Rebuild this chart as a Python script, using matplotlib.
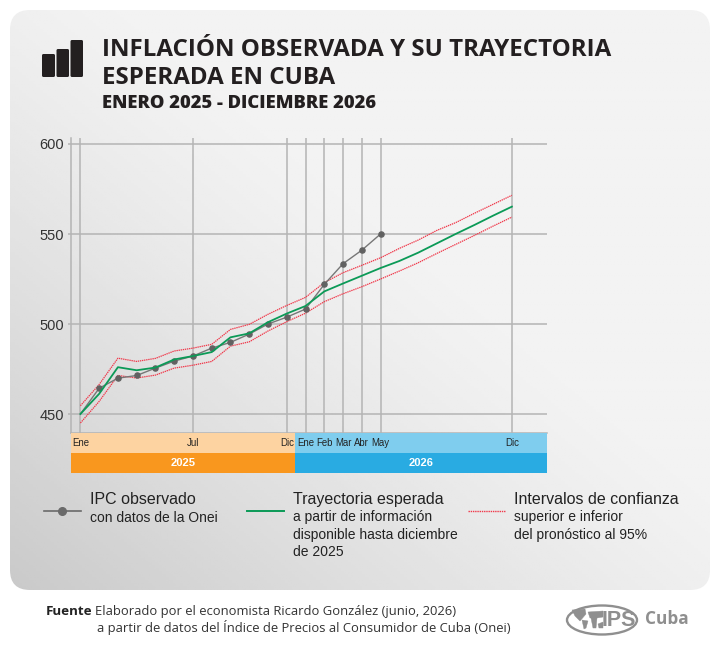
import matplotlib
matplotlib.use("Agg")
import matplotlib.pyplot as plt
from matplotlib.patches import FancyBboxPatch, Ellipse, Rectangle, Polygon
import numpy as np

# months counted from Ene 2025 = 0
months = list(range(24))
observed = [450, 464.3, 469.9, 471.4, 475.5, 479.4, 482.2, 486.6, 489.8, 494.4,
            500, 503.8, 508.3, 522, 533.5, 541, 550]
expected = [450, 461.2, 476, 474.3, 475.8, 480.3, 482.2, 484.4, 492.6, 494.8, 501, 505.8,
            510, 518.1, 522.5, 526.8, 531.1, 535, 539.6, 544.8, 550, 555, 560.2, 565.2]
upper = [454.6, 466.4, 481, 479.2, 480.9, 485, 486.6, 488.7, 497, 499.8, 505.4, 510.3,
         514.8, 523, 528.5, 532.6, 536.8, 542, 546.6, 552, 556.3, 561.5, 566.5, 571.5]
lower = [445, 457, 471.4, 470, 471.6, 475.5, 477.1, 479.2, 487.7, 490.1, 496.1, 501.3,
         506, 512.4, 516.8, 520.7, 525, 529.4, 534, 539.2, 544.2, 549.2, 554.4, 559.4]

y_ticks = [450, 500, 550, 600]
x_grid = [0, 6, 11, 12, 13, 14, 15, 16, 23]
x_labels = ["Ene", "Jul", "Dic", "Ene", "Feb", "Mar", "Abr", "May", "Dic"]
years = ["2025", "2026"]

W, H = 720, 650
GRID = "#b4b4b4"
RED = "#f0384a"
SANS = "Liberation Sans"
HEAD = "Open Sans"
LOGO = "#8f8f8f"

fig = plt.figure(figsize=(W / 100, H / 100), dpi=100, facecolor="white")


def px_axes(x0, y0, x1, y1):
    # axes from pixel box, y measured from the top
    return fig.add_axes([x0 / W, 1 - y1 / H, (x1 - x0) / W, (y1 - y0) / H])


# background layer in pixel coordinates
bg = fig.add_axes([0, 0, 1, 1])
bg.set_xlim(0, W)
bg.set_ylim(H, 0)
bg.axis("off")

u, v = np.meshgrid(np.linspace(0, 1, 200), np.linspace(0, 1, 200))
d = np.clip(((1 - u) * 0.5 + v * 0.5 - 0.42) / 0.58, 0, 1)
shade = 0.95 - (0.95 - 0.79) * d ** 1.25
img = bg.imshow(shade, extent=(10, 710, 590, 10), cmap="gray", vmin=0, vmax=1,
                aspect="auto", zorder=0)
panel = FancyBboxPatch((30, 30), 660, 540, boxstyle="round,pad=20,rounding_size=20",
                       transform=bg.transData, fc="none", ec="none")
bg.add_patch(panel)
img.set_clip_path(panel)
bg.set_xlim(0, W)
bg.set_ylim(H, 0)

# bars icon
for x0, x1, top in [(42, 55, 54), (56.5, 69, 49), (70.5, 83, 40)]:
    bg.add_patch(FancyBboxPatch((x0 + 1, top + 1), x1 - x0 - 2, 77 - top - 2,
                                boxstyle="round,pad=1,rounding_size=1.5",
                                fc="#231f20", ec="none", zorder=2))

bg.text(102, 55.5, "INFLACIÓN OBSERVADA Y SU TRAYECTORIA", family=HEAD, weight="bold",
        fontsize=17.4, color="#231f20", va="baseline", ha="left")
bg.text(102, 84.5, "ESPERADA EN CUBA", family=HEAD, weight="bold",
        fontsize=17.4, color="#231f20", va="baseline", ha="left")
bg.text(102, 108, "ENERO 2025 - DICIEMBRE 2026", family=HEAD, weight="heavy",
        fontsize=13.2, color="#231f20", va="baseline", ha="left")

# main chart
ax = px_axes(71, 138, 547, 433)
ax.set_facecolor("none")
ax.set_xlim((71 - 80.4) / 18.76, (547 - 80.4) / 18.76)
ax.set_ylim(600 - (433 - 144) / 1.8, 600 + (144 - 138) / 1.8)
for s in ["top", "right"]:
    ax.spines[s].set_visible(False)
for s in ["left", "bottom"]:
    ax.spines[s].set_color(GRID)
    ax.spines[s].set_linewidth(1.1)
ax.set_yticks(y_ticks)
ax.set_xticks([])
ax.tick_params(axis="y", length=2.2, width=1.1, color=GRID, pad=3, labelsize=10.5,
               labelcolor="#333333")
for lab in ax.get_yticklabels():
    lab.set_family(SANS)
ax.grid(axis="y", color=GRID, lw=1.1)
for m in x_grid:
    ax.axvline(m, color=GRID, lw=1.1, zorder=1)
ax.set_axisbelow(True)

ax.plot(months, upper, color=RED, lw=0.9, ls=(0, (1.1, 0.6)), zorder=3)
ax.plot(months, lower, color=RED, lw=0.9, ls=(0, (1.1, 0.6)), zorder=3)
ax.plot(months[:len(observed)], observed, color="#777777", lw=1.0, marker="o",
        ms=3.7, mfc="#616161", mec="#616161", markevery=list(range(1, len(observed))),
        zorder=4)
ax.plot(months, expected, color="#0b9a57", lw=1.3, zorder=5)

# month and year bands under the chart
band = px_axes(71, 433, 547, 473)
band.set_xlim(ax.get_xlim())
band.set_ylim(2, 0)
band.axis("off")
split = 11.43
left, right = ax.get_xlim()
band.add_patch(Rectangle((left, 0), split - left, 1, fc="#fdd3a1", ec="none"))
band.add_patch(Rectangle((split, 0), right - split, 1, fc="#7fcdee", ec="none"))
band.add_patch(Rectangle((left, 1), split - left, 1, fc="#f9971e", ec="none"))
band.add_patch(Rectangle((split, 1), right - split, 1, fc="#29abe2", ec="none"))
for m, lab in zip(x_grid, x_labels):
    band.text(m, 0.5, lab, ha="center", va="center", family=SANS, fontsize=6.9,
              color="#222222")
band.text((left + split) / 2, 1.5, years[0], ha="center", va="center", family=SANS,
          weight="bold", fontsize=8, color="white")
band.text((split + right) / 2, 1.5, years[1], ha="center", va="center", family=SANS,
          weight="bold", fontsize=8, color="white")

# legend
bg.plot([44, 81], [511, 511], color="#6a6a6a", lw=1.2, zorder=2)
bg.plot([62], [511], marker="o", ms=5.5, color="#6a6a6a", zorder=3)
bg.plot([247, 284], [511, 511], color="#0b9a57", lw=1.4, zorder=2)
bg.plot([468, 505], [511, 511], color=RED, lw=1.0, ls=(0, (1, 0.6)), zorder=2)

legend_heads = [(90, "IPC observado"), (293, "Trayectoria esperada"), (514, "Intervalos de confianza")]
for x, t in legend_heads:
    bg.text(x, 499.5, t, family=SANS, fontsize=11.5, color="#222222", va="center")
legend_subs = [
    (90, 517.5, "con datos de la Onei"),
    (293, 517.5, "a partir de información"),
    (293, 534.5, "disponible hasta diciembre"),
    (293, 551.5, "de 2025"),
    (514, 517.5, "superior e inferior"),
    (514, 534.5, "del pronóstico al 95%"),
]
for x, y, t in legend_subs:
    bg.text(x, y, t, family=SANS, fontsize=10, color="#222222", va="center")

# source
bg.text(46, 615, "Fuente", family=HEAD, weight="bold", fontsize=9.6, color="#222222", va="baseline")
bg.text(95, 615, "Elaborado por el economista Ricardo González (junio, 2026)", family=HEAD,
        fontsize=9.33, color="#333333", va="baseline")
bg.text(97, 632, "a partir de datos del Índice de Precios al Consumidor de Cuba (Onei)", family=HEAD,
        fontsize=9.33, color="#333333", va="baseline")

# IPS logo
bg.add_patch(Ellipse((602, 620), 70, 29, fc="none", ec=LOGO, lw=1.7, zorder=2))
for pts in [[(572, 610), (585, 609), (586, 614), (580, 621), (575, 616)],
            [(582, 620), (588, 621), (586, 628), (584, 629)],
            [(588, 612), (603, 611), (603, 617), (597, 618), (590, 618)],
            [(591, 618), (597, 618), (596, 628), (593, 628)],
            [(598, 624), (603, 622), (603, 628), (599, 628)]]:
    bg.add_patch(Polygon(pts, fc=LOGO, ec=LOGO, lw=0.3, zorder=3))
bg.text(619, 620.5, "IPS", family=SANS, weight="bold", fontsize=15.5, color=LOGO,
        ha="center", va="center", zorder=3)
bg.text(645, 619.5, "Cuba", family=HEAD, weight="bold", fontsize=12.4, color=LOGO,
        ha="left", va="center")

fig.savefig("out.png", dpi=100)
